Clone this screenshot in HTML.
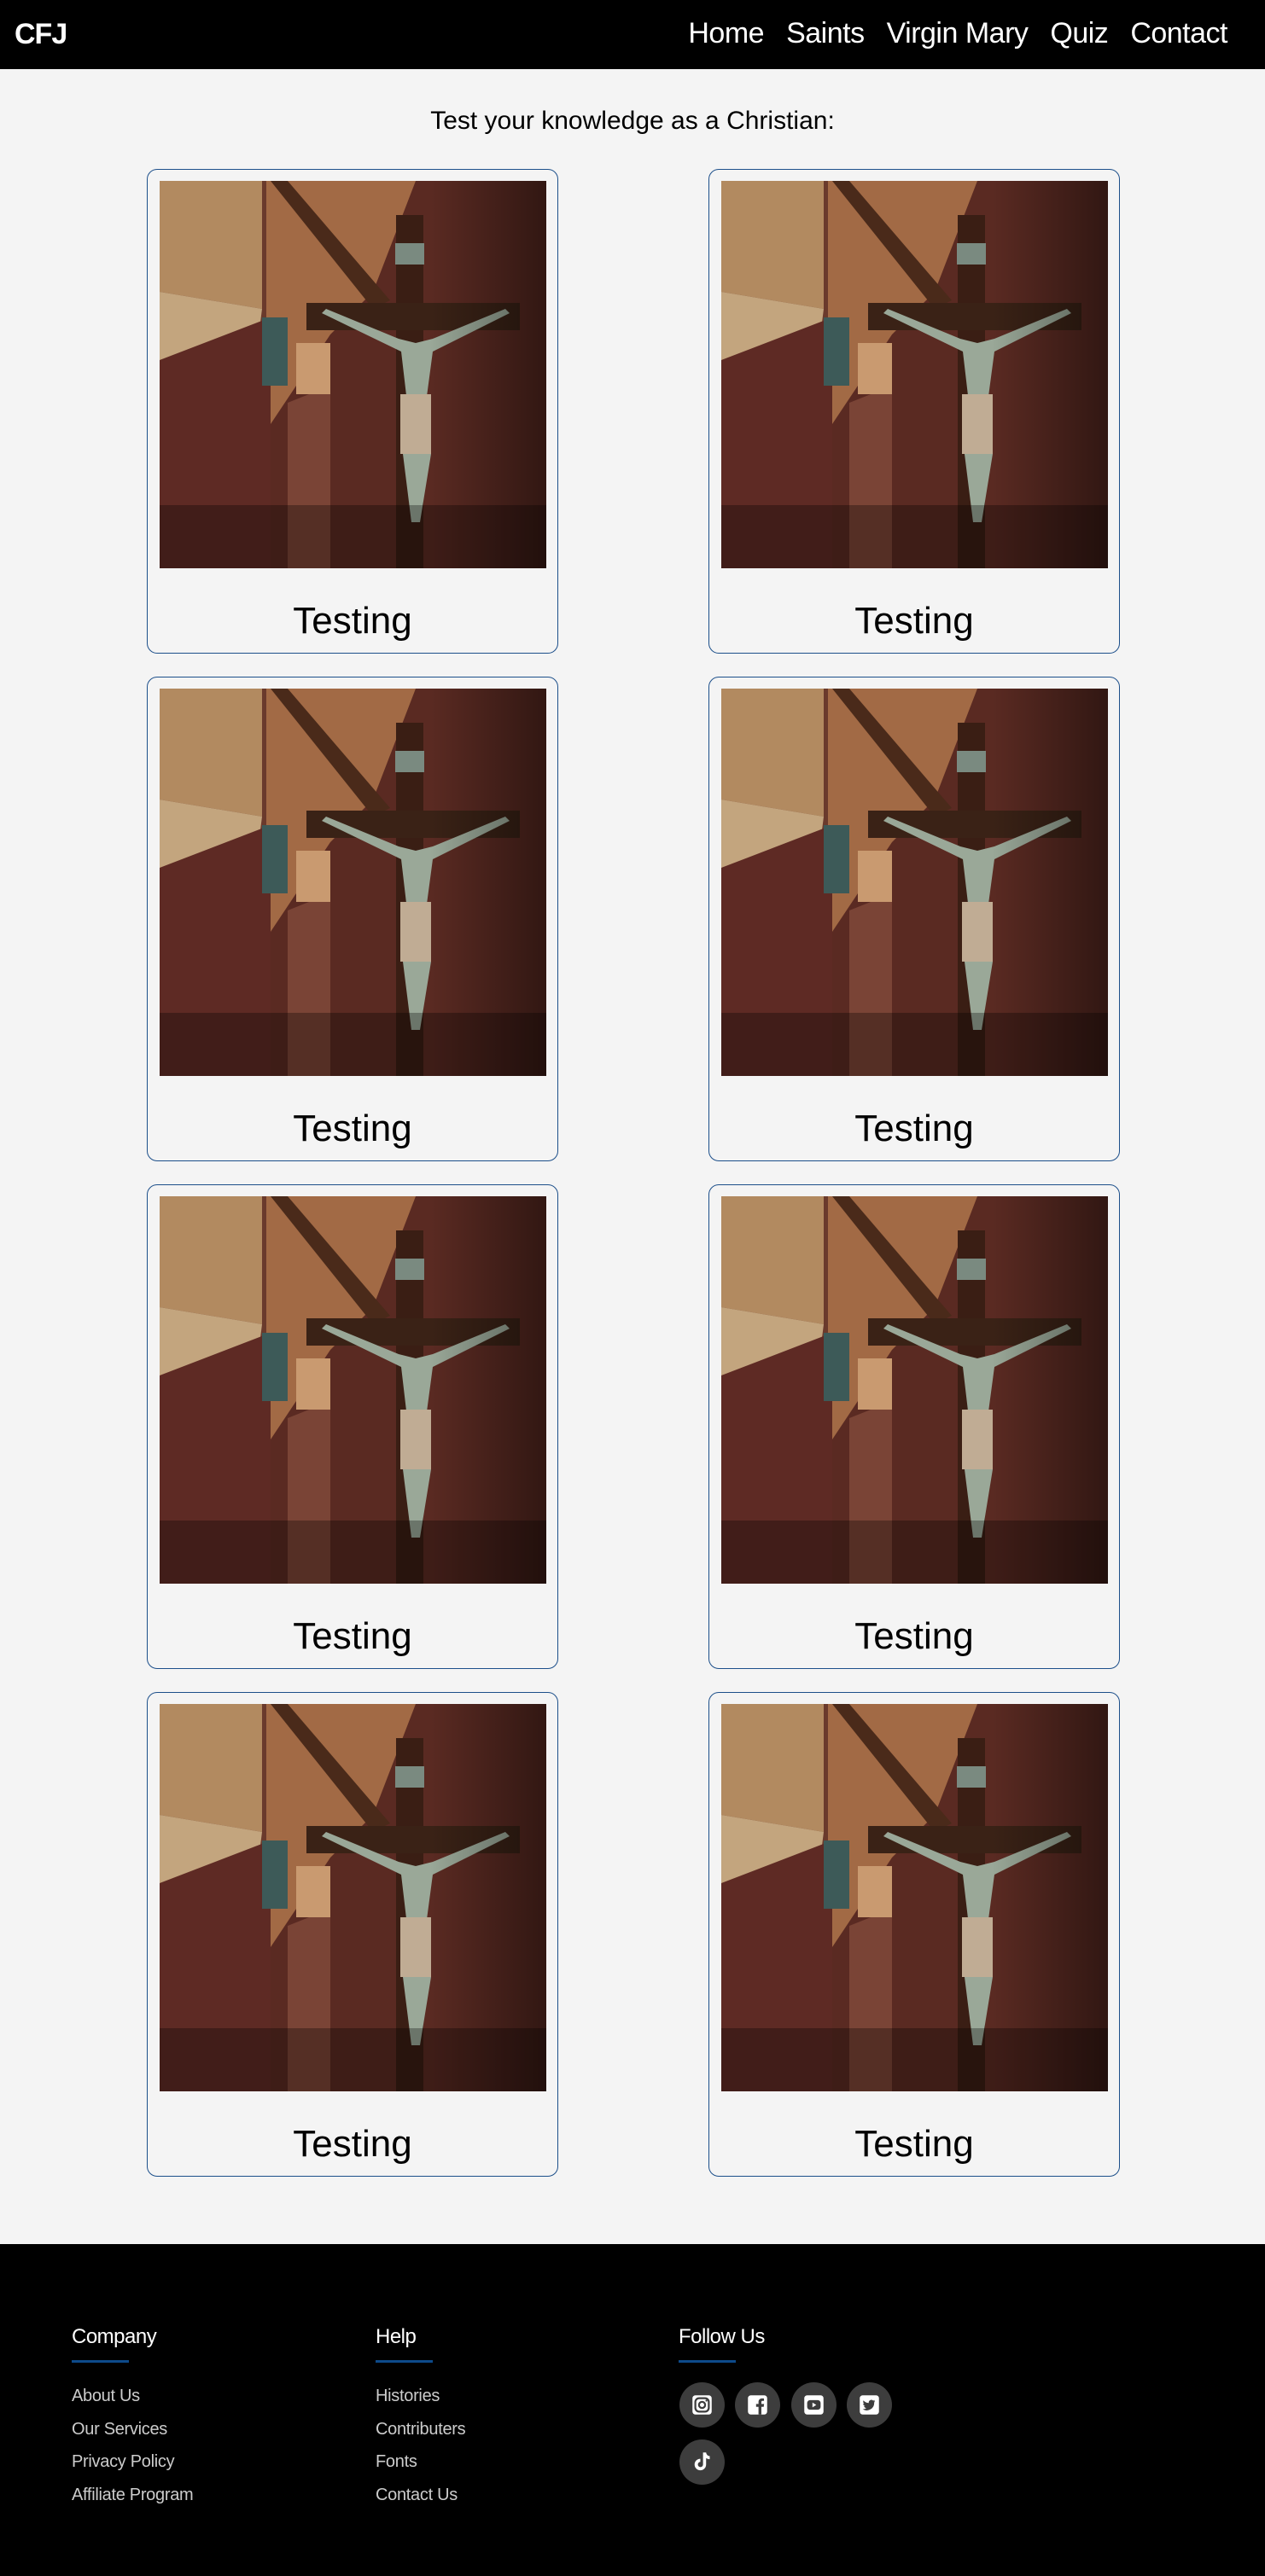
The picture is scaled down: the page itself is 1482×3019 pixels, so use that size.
<!DOCTYPE html>
<html><head><meta charset="utf-8"><style>
*{box-sizing:border-box;margin:0;padding:0}
body{width:1482px;height:3019px;background:#f4f4f4;font-family:"Liberation Sans",sans-serif;position:relative;overflow:hidden}
header{position:absolute;left:0;top:0;width:1482px;height:81px;background:#000}
.logo{position:absolute;left:17px;top:21px;color:#fff;font-weight:bold;font-size:34px;letter-spacing:-1px}
nav{position:absolute;right:44px;top:20px;display:flex;gap:26px}
nav a{color:#fff;text-decoration:none;font-size:34px;letter-spacing:-0.5px}
h1{position:absolute;top:125px;left:0;width:1482px;text-align:center;font-weight:normal;font-size:30px;color:#000}
.card{position:absolute;width:482px;height:568px;border:1.5px solid #1c4f8a;border-radius:12px;background:#f4f4f4}
.card svg{position:absolute;left:14px;top:13px;width:453px;height:454px}
.card .t{position:absolute;left:0;width:100%;top:504px;text-align:center;font-size:44px;color:#000}
footer{position:absolute;left:0;top:2630px;width:1482px;height:389px;background:#000}
.col{position:absolute;top:95px}
.col h3{color:#fff;font-weight:normal;font-size:24px;letter-spacing:-0.5px}
.col .ul{width:67px;height:3px;background:#0d4a8a;margin-top:13px}
.col a{display:block;color:#ccc;font-size:20px;text-decoration:none;height:38.5px;letter-spacing:-0.3px}
.links{margin-top:28px}
.ic{position:absolute;width:53px;height:53px;border-radius:50%;background:#3d3d3d}
.ic svg{position:absolute;left:13px;top:13px;width:27px;height:27px}
</style></head><body>
<svg width="0" height="0" style="position:absolute"><defs>
<linearGradient id="vig" x1="0" y1="0" x2="1" y2="0"><stop offset="0.7" stop-color="#000" stop-opacity="0"/><stop offset="1" stop-color="#000" stop-opacity="0.45"/></linearGradient>
<g id="photo">
<rect width="453" height="454" fill="#5a2a22"/>
<polygon points="120,0 300,0 250,130 200,180 120,300" fill="#a26a45"/>
<polygon points="0,0 125,0 125,454 0,454" fill="#6a3a2c"/>
<polygon points="0,0 120,0 120,150 0,130" fill="#b28a60"/>
<polygon points="0,130 120,150 110,230 0,210" fill="#c3a57e"/>
<polygon points="0,210 130,160 130,454 0,454" fill="#5e2a24"/>
<rect x="120" y="160" width="30" height="80" fill="#3d5a58"/>
<polygon points="130,0 150,0 270,140 250,150" fill="#4a2a1a"/>
<polygon points="150,260 200,240 200,454 150,454" fill="#7a4436"/>
<rect x="160" y="190" width="40" height="60" fill="#c99a70"/>
<rect x="277" y="40" width="32" height="414" fill="#3a1e14"/>
<rect x="172" y="143" width="250" height="32" fill="#3a2216"/>
<rect x="276" y="73" width="34" height="25" fill="#7a8a80"/>
<path d="M195,150 L280,185 L300,190 L320,185 L405,150 L410,155 L320,200 L312,260 L318,320 L305,400 L295,400 L285,320 L290,260 L283,200 L190,155Z" fill="#9aa898"/>
<rect x="282" y="250" width="36" height="70" fill="#c0ac94"/>
<rect width="453" height="454" fill="url(#vig)"/>
<rect y="380" width="453" height="74" fill="#000" opacity="0.3"/>
</g></defs></svg>

<header>
<div class="logo">CFJ</div>
<nav>
<a href="#">Home</a>
<a href="#">Saints</a>
<a href="#">Virgin Mary</a>
<a href="#">Quiz</a>
<a href="#">Contact</a>
</nav></header>
<h1>Test your knowledge as a Christian:</h1>

<div id="cards"></div>

<footer>
<div class="col" style="left:84px">
<h3>Company</h3><div class="ul"></div>
<div class="links">
<a href="#">About Us</a>
<a href="#">Our Services</a>
<a href="#">Privacy Policy</a>
<a href="#">Affiliate Program</a>
</div></div>
<div class="col" style="left:440px">
<h3>Help</h3><div class="ul"></div>
<div class="links">
<a href="#">Histories</a>
<a href="#">Contributers</a>
<a href="#">Fonts</a>
<a href="#">Contact Us</a>
</div></div>
<div class="col" style="left:795px">
<h3>Follow Us</h3><div class="ul"></div>
</div>
<div class="ic" style="left:796px;top:162px"><svg viewBox="0 0 24 24"><rect x="2" y="2" width="20" height="20" rx="3" fill="#fff"/><rect x="5" y="5" width="14" height="14" rx="4" fill="none" stroke="#3d3d3d" stroke-width="2"/><circle cx="12" cy="12" r="3.2" fill="none" stroke="#3d3d3d" stroke-width="2"/><circle cx="16.5" cy="7.5" r="1" fill="#3d3d3d"/></svg></div>
<div class="ic" style="left:861px;top:162px"><svg viewBox="0 0 24 24"><rect x="2" y="2" width="20" height="20" rx="3" fill="#fff"/><path d="M13 22V14h-2.5v-3H13V9c0-2.5 1.5-3.8 3.7-3.8 1 0 1.8.1 2 .1v2.5h-1.4c-1.1 0-1.3.6-1.3 1.3V11h2.8l-.4 3H16v8z" fill="#3d3d3d"/></svg></div>
<div class="ic" style="left:927px;top:162px"><svg viewBox="0 0 24 24"><rect x="2" y="2" width="20" height="20" rx="3" fill="#fff"/><rect x="5" y="7" width="14" height="10" rx="3" fill="#3d3d3d"/><path d="M10.5 9.5v5l4-2.5z" fill="#fff"/></svg></div>
<div class="ic" style="left:992px;top:162px"><svg viewBox="0 0 24 24"><rect x="2" y="2" width="20" height="20" rx="3" fill="#fff"/><path d="M18 8c-.5.2-1 .4-1.5.4.6-.3 1-.9 1.2-1.5-.5.3-1.1.5-1.7.7a2.7 2.7 0 0 0-4.6 2.4C9.2 9.9 7.2 8.9 5.9 7.3c-.7 1.2-.3 2.8.8 3.6-.4 0-.8-.1-1.2-.3 0 1.3.9 2.4 2.1 2.7-.4.1-.8.1-1.2 0 .3 1.1 1.3 1.9 2.5 1.9A5.4 5.4 0 0 1 5 16.3 7.7 7.7 0 0 0 17 9.4z" fill="#3d3d3d"/></svg></div>
<div class="ic" style="left:796px;top:229px"><svg viewBox="0 0 24 24"><path d="M13 2h3.2c.3 2.2 1.7 3.6 3.8 3.8v3.2c-1.4 0-2.7-.4-3.8-1.1v6.6a6 6 0 1 1-6-6v3.3a2.7 2.7 0 1 0 2.8 2.7z" fill="#fff"/></svg></div>
</footer>

<script>
var cardTitles=["Testing","Testing","Testing","Testing","Testing","Testing","Testing","Testing"];
var wrap=document.getElementById('cards');
cardTitles.forEach(function(t,i){
  var c=document.createElement('div');
  c.className='card';
  c.style.left=(i%2===0?172:830)+'px';
  c.style.top=(198+Math.floor(i/2)*595)+'px';
  
  
  c.innerHTML='<svg viewBox="0 0 453 454"><use href="#photo"/></svg><div class="t">'+t+'</div>';
  var s=c.querySelector('svg');
  
  
  var tt=c.querySelector('.t');
  
  
  wrap.appendChild(c);
});
</script>
</body></html>
